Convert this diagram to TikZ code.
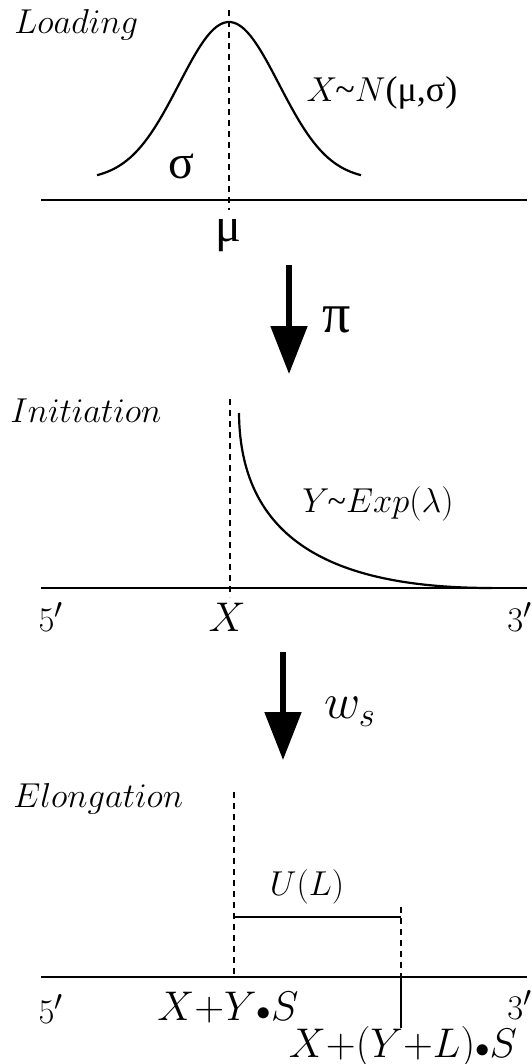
\documentclass[tikz,border=0pt]{standalone}
\usepackage{fontspec}
\usetikzlibrary{arrows.meta}
\newfontfamily\symfont{Liberation Serif}

\tikzset{
    axis/.style={line width=1.2pt},
    guide/.style={line width=1.2pt, dash pattern=on 3pt off 2.5pt},
    curve/.style={line width=1.1pt},
    flow/.style={line width=2.6pt, -{Triangle[width=18pt,length=24pt]}},
    stage/.style={font=\fontsize{17.5}{20}\selectfont, anchor=west, inner sep=0pt},
    lbl/.style={font=\fontsize{19}{22}\selectfont, inner sep=0pt},
    greek/.style={font=\fontsize{24}{26}\symfont, inner sep=0pt},
}

\begin{document}
\begin{tikzpicture}[x=0.5pt, y=-0.5pt]
    % --- page frame (pixels, y down) ---
    \useasboundingbox (0,0) rectangle (531,1064);

    % --- axes positions ---
    \def\xL{41}          % left end of axes
    \def\xR{527}         % right end of axes
    \def\yA{200}         % axis of Loading
    \def\yB{588}         % axis of Initiation
    \def\yC{977}         % axis of Elongation

    % ===== Loading =====
    \node[stage, font=\fontsize{18.5}{20}\selectfont] (loading) at (14,25) {$Loading$};
    \draw[axis] (\xL,\yA) -- (\xR,\yA);
    \draw[guide] (229,10) -- (229,210);
    % normal density
    \draw[curve, domain=97:361, samples=80, smooth]
        plot (\x, {180 - 158*exp(-((\x-229)/50)^2/2)});
    \node[greek] (sigma) at (181,166) {σ};
    \node[greek] (mu) at (228,236) {μ};
    \node[lbl, font=\fontsize{18}{20}\selectfont] (normal) at (382,93)
        {$X$\hspace{-1pt}{\symfont\char"007E}$N${\symfont(μ,σ)}};

    % --- Loading -> Initiation ---
    \coordinate (a1top) at (289,265);
    \coordinate (a1tip) at (289,374);
    \draw[flow] (a1top) -- (a1tip);
    \node[greek, font=\fontsize{28}{30}\symfont] (pi) at (337,320) {π};

    % ===== Initiation =====
    \node[stage] (initiation) at (10,411) {$Initiation$};
    \draw[axis] (\xL,\yB) -- (\xR,\yB);
    \draw[guide] (230,399) -- (230,597);
    % exponential decay
    \draw[curve] (239,413) .. controls (240,545) and (340,588) .. (492,\yB);
    \node[lbl, font=\fontsize{17}{20}\selectfont] (expo) at (378,504)
        {$Y$\hspace{-1pt}{\symfont\char"007E}$Exp(\lambda)$};
    \node[lbl] (fiveB) at (51,617) {$5'$};
    \node[lbl, font=\fontsize{22}{24}\selectfont] (xB) at (227,617) {$X$};
    \node[lbl, anchor=west] (threeB) at (507,617) {$3'$};

    % --- Initiation -> Elongation ---
    \coordinate (a2top) at (283,652);
    \coordinate (a2tip) at (283,760);
    \draw[flow] (a2top) -- (a2tip);
    \node[lbl, font=\fontsize{26}{28}\selectfont] (ws) at (350,712) {$w_s$};

    % ===== Elongation =====
    \node[stage] (elongation) at (13,799) {$Elongation$};
    \draw[axis] (\xL,\yC) -- (\xR,\yC);
    \draw[guide] (234,792) -- (234,\yC);
    \draw[guide] (401,907) -- (401,\yC);
    \draw[axis] (234,917) -- (401,917);
    \draw[axis] (401,\yC) -- (401,1028);
    \node[lbl, font=\fontsize{17}{20}\selectfont] (unif) at (307,887) {$U(L)$};
    \node[lbl] (fiveC) at (51,1009) {$5'$};
    \node[lbl, font=\fontsize{20}{22}\selectfont] (start) at (228,1008)
        {$X{+}Y{\scriptstyle\bullet}S$};
    \node[lbl, font=\fontsize{19.5}{22}\selectfont] (stop) at (403,1047)
        {$X{+}(Y{+}L){\scriptstyle\bullet}S$};
    \node[lbl, anchor=west] (threeC) at (507,1005) {$3'$};

\end{tikzpicture}
\end{document}
